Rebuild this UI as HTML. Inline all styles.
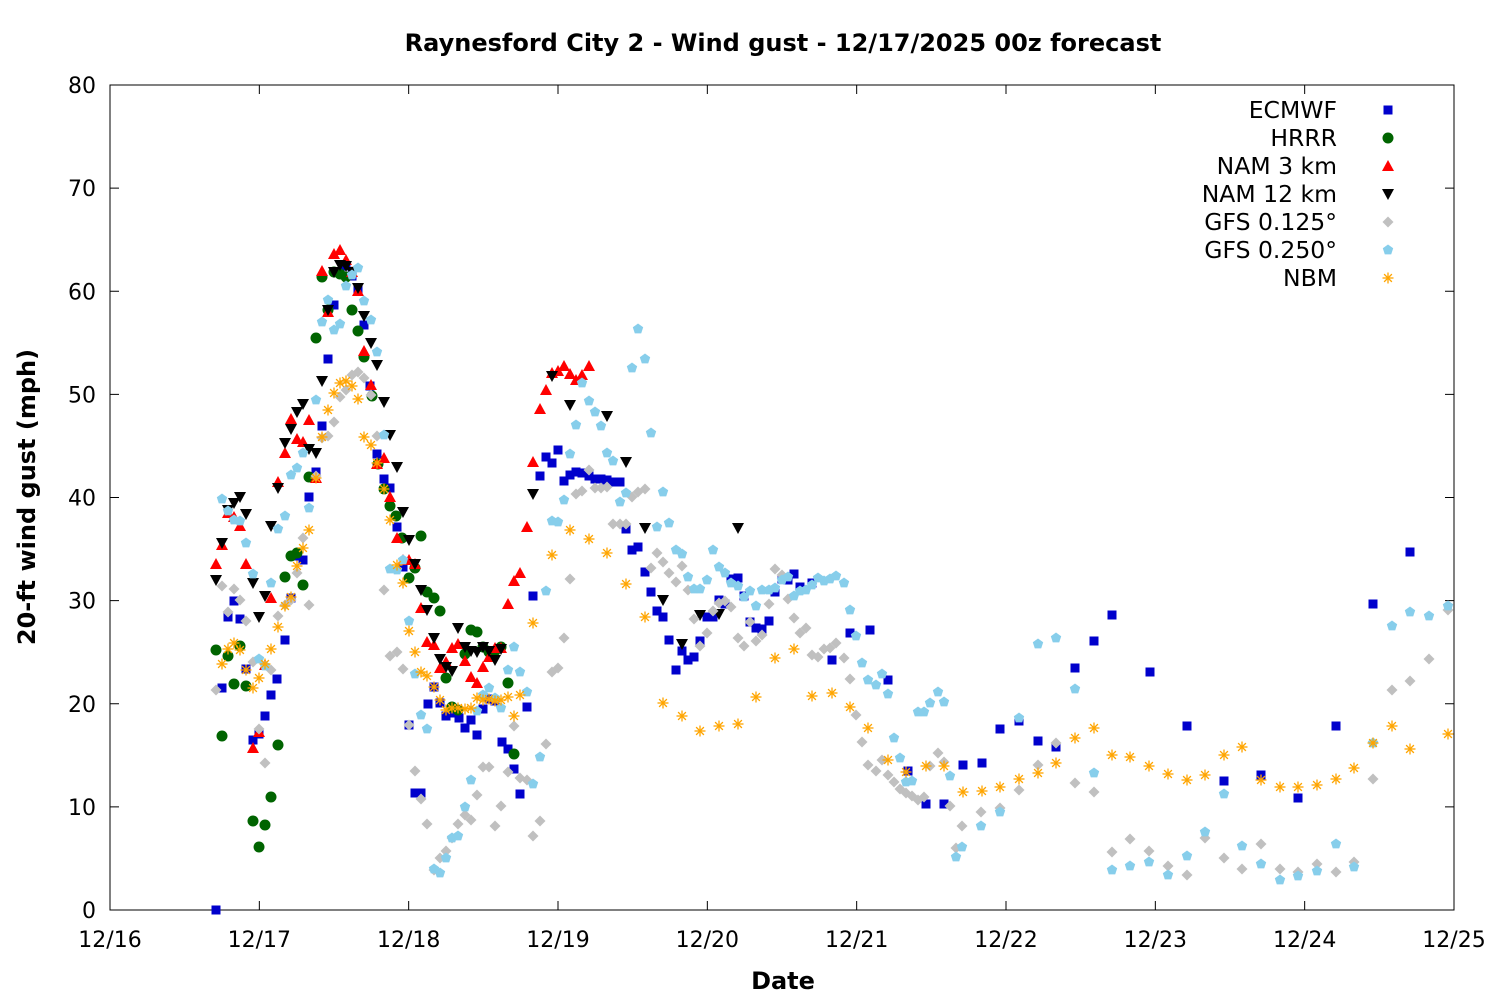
<!DOCTYPE html>
<html><head><meta charset="utf-8"><style>
html,body{margin:0;padding:0;background:#fff;}
svg{display:block;font-family:"DejaVu Sans","Liberation Sans",sans-serif;}
</style></head><body>
<svg id="s" width="1500" height="1000" xmlns="http://www.w3.org/2000/svg">
<rect width="1500" height="1000" fill="#fff"/>
<text x="783" y="51" text-anchor="middle" font-size="24" font-weight="bold">Raynesford City 2 - Wind gust - 12/17/2025 00z forecast</text>
<text x="783" y="989" text-anchor="middle" font-size="24" font-weight="bold">Date</text>
<text transform="translate(35,497) rotate(-90)" text-anchor="middle" font-size="24" font-weight="bold">20-ft wind gust (mph)</text>
<g id="ax" stroke="#000" stroke-width="1"></g>
<g id="lab" font-size="22"></g>
<g id="pts"></g>
<g id="leg" font-size="23.5" text-anchor="end"></g>
</svg>
<script>
const NS="http://www.w3.org/2000/svg";
function el(p,t,a,txt){const e=document.createElementNS(NS,t);for(const k in a)e.setAttribute(k,a[k]);if(txt!==undefined)e.textContent=txt;p.appendChild(e);return e;}
const ax=document.getElementById('ax'),lab=document.getElementById('lab'),pts=document.getElementById('pts'),leg=document.getElementById('leg');
const L=110,R=1454,T=85,B=910;
el(ax,'rect',{x:L,y:T,width:R-L,height:B-T,fill:'none'});
for(let i=0;i<=8;i++){const y=B-i*(B-T)/8;
 el(ax,'line',{x1:L,y1:y,x2:L+9,y2:y});el(ax,'line',{x1:R,y1:y,x2:R-9,y2:y});
 el(lab,'text',{x:96,y:y+8,'text-anchor':'end'},String(i*10));}
for(let i=0;i<=9;i++){const x=L+i*(R-L)/9;
 el(ax,'line',{x1:x,y1:B,x2:x,y2:B-9});el(ax,'line',{x1:x,y1:T,x2:x,y2:T+9});
 el(lab,'text',{x:x,y:947,'text-anchor':'middle'},'12/'+(16+i));}
function sq(g,x,y,c){el(g,'rect',{x:x-4.5,y:y-4.5,width:9,height:9,fill:c});}
function ci(g,x,y,c){el(g,'circle',{cx:x,cy:y,r:5.5,fill:c});}
function tu(g,x,y,c){el(g,'polygon',{points:`${x},${y-6} ${x-6},${y+5} ${x+6},${y+5}`,fill:c});}
function td(g,x,y,c){el(g,'polygon',{points:`${x},${y+6} ${x-6},${y-5} ${x+6},${y-5}`,fill:c});}
function di(g,x,y,c){el(g,'polygon',{points:`${x},${y-5.5} ${x+5.5},${y} ${x},${y+5.5} ${x-5.5},${y}`,fill:c});}
function pe(g,x,y,c){let p=[];for(let k=0;k<5;k++){const a=-Math.PI/2+k*2*Math.PI/5;p.push((x+5.5*Math.cos(a)).toFixed(1)+','+(y+5.5*Math.sin(a)).toFixed(1));}el(g,'polygon',{points:p.join(' '),fill:c});}
function st(g,x,y,c){const r=5.5;for(let k=0;k<4;k++){const a=k*Math.PI/4;el(g,'line',{x1:x-r*Math.cos(a),y1:y-r*Math.sin(a),x2:x+r*Math.cos(a),y2:y+r*Math.sin(a),stroke:c,'stroke-width':1.3});}}
const S=[
['ECMWF','#0000cc',sq,[216,910,222,688,228,617,234,601,240,619,246,669,253,740,259,734,265,716,271,695,277,679,285,640,291,598,297,556,303,560,309,497,316,472,322,426,328,359,334,305,340,272,346,266,352,276,358,290,364,325,370,386,377,454,384,479,390,488,397,527,403,567,409,725,415,793,421,793,428,704,434,687,440,703,446,716,452,713,459,718,465,728,471,720,477,735,483,709,489,699,495,701,502,742,508,749,514,769,520,794,527,707,533,596,540,476,546,457,552,463,558,450,564,481,570,475,576,472,582,473,589,476,595,479,601,479,607,480,613,482,620,482,626,529,632,550,638,547,645,572,651,592,657,611,663,617,669,640,676,670,682,651,688,660,694,657,700,641,707,617,713,617,719,600,725,604,731,579,738,578,744,596,750,622,756,628,762,629,769,621,775,592,782,579,788,580,794,574,800,587,812,583,832,660,850,633,870,630,888,680,908,771,926,804,944,804,963,765,982,763,1000,729,1019,721,1038,741,1056,747,1075,668,1094,641,1112,615,1150,672,1187,726,1224,781,1261,775,1298,798,1336,726,1373,604,1410,552]],
['HRRR','#006400',ci,[216,650,222,736,228,656,234,684,240,646,246,686,253,821,259,847,265,825,271,797,278,745,285,577,291,556,297,553,303,585,309,477,316,338,322,277,328,310,334,272,340,274,346,277,352,310,358,331,364,357,372,396,378,464,384,489,390,506,396,516,402,538,409,578,415,568,421,536,427,592,434,598,440,611,446,678,452,707,458,710,465,654,471,630,477,632,483,647,489,652,495,651,501,647,508,683,514,754]],
['NAM 3 km','#ff0000',tu,[216,564,222,545,228,513,234,517,240,526,246,564,253,748,259,732,265,665,271,598,278,482,285,453,291,419,297,439,303,442,309,420,316,478,322,271,328,312,334,254,340,250,346,260,352,272,358,291,364,351,371,385,377,464,384,458,390,497,397,538,403,560,409,560,415,564,421,608,427,642,434,645,440,668,446,662,452,648,458,644,465,661,471,677,477,683,483,667,489,657,495,648,501,648,508,604,514,581,520,573,527,527,533,462,540,409,546,390,552,373,558,371,564,366,570,374,576,380,582,375,589,366]],
['NAM 12 km','#000000',td,[216,580,222,543,228,510,234,503,240,497,246,514,253,583,259,617,265,596,271,526,278,488,285,443,291,429,297,412,303,404,309,449,316,453,322,381,328,310,334,272,340,265,346,266,352,272,358,288,364,316,371,343,377,365,384,402,390,435,397,467,403,512,409,540,415,564,421,590,427,610,434,638,440,659,446,667,452,671,458,628,465,647,471,651,477,652,483,647,489,651,495,660,501,649,533,494,552,376,570,405,607,416,626,462,645,528,663,600,682,644,700,615,719,614,738,528]],
['GFS 0.125°','#c0c0c0',di,[216,690,222,586,228,612,234,589,240,600,246,621,253,662,259,729,265,763,271,670,278,616,285,605,291,600,297,573,303,538,309,605,316,476,322,438,328,436,334,422,340,397,346,390,352,375,358,372,364,378,371,395,377,436,384,590,390,656,397,652,403,669,409,725,415,771,421,799,427,824,434,870,440,858,446,851,452,838,458,824,465,815,471,820,477,795,483,767,489,767,495,826,501,806,508,772,514,726,520,778,527,780,533,836,540,821,546,744,552,672,558,668,564,638,570,579,576,494,582,491,589,470,595,488,601,488,607,487,613,524,620,524,626,524,632,497,638,492,645,489,651,568,657,553,663,562,669,573,676,582,682,566,688,590,694,619,700,646,707,633,713,611,719,603,725,601,731,607,738,638,744,646,750,622,756,641,762,635,769,604,775,569,782,575,788,599,794,618,800,633,806,628,812,655,818,657,824,649,830,648,836,643,844,658,850,679,856,715,862,742,868,765,876,771,882,760,888,775,894,782,900,789,906,793,912,796,918,800,924,797,930,766,938,753,944,762,950,806,956,848,962,826,981,812,1000,808,1019,790,1038,765,1056,743,1075,783,1094,792,1112,852,1130,839,1149,851,1168,866,1187,875,1205,838,1224,858,1242,869,1261,844,1280,869,1298,872,1317,864,1336,872,1354,862,1373,779,1392,690,1410,681,1429,659,1448,610]],
['GFS 0.250°','#87ceeb',pe,[222,499,228,511,234,520,240,521,246,543,253,574,259,659,265,666,271,583,278,529,285,516,291,475,297,468,303,453,309,508,316,400,322,322,328,300,334,330,340,324,346,286,352,275,358,268,364,301,371,320,377,352,384,435,390,569,397,570,403,560,409,621,415,674,421,715,427,729,434,869,440,873,446,858,452,838,458,836,465,807,471,780,477,711,483,695,489,688,495,698,501,708,508,670,514,647,520,672,527,692,533,784,540,757,546,591,552,521,558,522,564,500,570,454,576,425,582,383,589,401,595,412,601,426,607,453,613,461,620,502,626,493,632,368,638,329,645,359,651,433,657,527,663,492,669,523,676,550,682,554,688,577,694,589,700,589,707,580,713,550,719,567,725,573,731,583,738,586,744,597,750,591,756,606,762,590,769,590,775,588,782,580,788,577,794,596,800,591,806,590,812,585,818,578,824,581,830,579,836,576,844,583,850,610,856,636,862,663,868,680,876,685,882,674,888,694,894,738,900,758,906,782,912,781,918,712,924,712,930,703,938,692,944,702,950,776,956,857,962,847,981,826,1000,812,1019,718,1038,644,1056,638,1075,689,1094,773,1112,870,1130,866,1149,862,1168,875,1187,856,1205,832,1224,794,1242,846,1261,864,1280,880,1298,876,1317,871,1336,844,1354,867,1373,743,1392,626,1410,612,1429,616,1448,606]],
['NBM','#ffa500',st,[222,664,228,649,234,643,240,650,246,670,253,688,259,678,265,664,271,649,278,627,285,606,291,597,297,566,303,548,309,530,316,478,322,437,328,410,334,393,340,383,346,381,352,386,358,399,364,437,371,445,377,463,384,489,390,520,397,565,403,583,409,631,415,652,421,672,427,676,434,687,440,700,446,710,452,708,458,708,465,709,471,708,477,698,483,700,489,699,495,701,501,700,508,697,514,716,520,695,533,623,552,555,570,530,589,539,607,553,626,584,645,617,663,703,682,716,700,731,719,726,738,724,756,697,775,658,794,649,812,696,832,693,850,707,868,728,888,760,906,772,926,766,944,766,963,792,982,791,1000,787,1019,779,1038,773,1056,763,1075,738,1094,728,1112,755,1130,757,1149,766,1168,774,1187,780,1205,775,1224,755,1242,747,1261,780,1280,787,1298,787,1317,785,1336,779,1354,768,1373,743,1392,726,1410,749,1448,734]]
];
S.forEach((s,i)=>{const g=el(pts,'g',{});const d=s[3];for(let k=0;k<d.length;k+=2)s[2](g,d[k],d[k+1],s[1]);
 const y=110+i*28;el(leg,'text',{x:1337,y:y+8},s[0]);s[2](leg,1388,y,s[1]);});
</script>
</body></html>
